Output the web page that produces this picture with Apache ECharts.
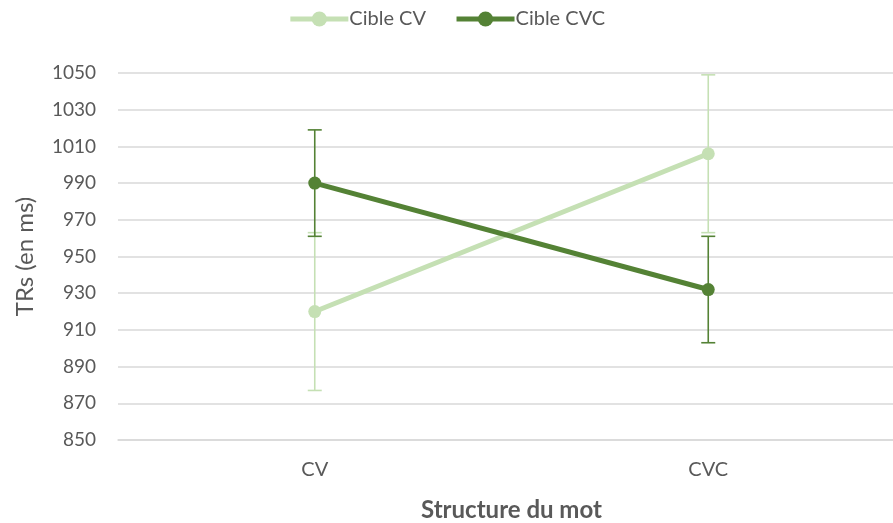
<!DOCTYPE html>
<html>
<head>
<meta charset="utf-8">
<script src="https://cdn.jsdelivr.net/npm/echarts@6/dist/echarts.min.js"></script>
<style>html,body{margin:0;padding:0;background:#fff}#chart{width:893px;height:523px}</style>
</head>
<body>
<div id="chart"></div>
<script>
// Categories and mean reaction times (ms) with error margins
const categories = ['CV', 'CVC'];
const seriesNames = ['Cible CV', 'Cible CVC'];
const cibleCV = [920, 1006];
const cibleCVErr = [43, 43];
const cibleCVC = [990, 932];
const cibleCVCErr = [29, 29];
const yTicks = { min: 850, max: 1050, interval: 20 };

const colors = ['#c5e0b4', '#548235'];
const font = 'Lato, "Open Sans", sans-serif';
const textColor = '#595959';

function errorSeries(values, errs, color) {
  return {
    type: 'custom',
    silent: true,
    z: 1,
    data: values.map((v, i) => [i, v - errs[i], v + errs[i]]),
    renderItem: function (params, api) {
      const lo = api.coord([api.value(0), api.value(1)]);
      const hi = api.coord([api.value(0), api.value(2)]);
      const hw = 7;
      const style = { stroke: color, lineWidth: 1.6 };
      return {
        type: 'group',
        children: [
          { type: 'line', shape: { x1: hi[0], y1: hi[1], x2: lo[0], y2: lo[1] }, style },
          { type: 'line', shape: { x1: hi[0] - hw, y1: hi[1], x2: hi[0] + hw, y2: hi[1] }, style },
          { type: 'line', shape: { x1: lo[0] - hw, y1: lo[1], x2: lo[0] + hw, y2: lo[1] }, style }
        ]
      };
    }
  };
}

function lineSeries(name, values, color) {
  return {
    name: name,
    type: 'line',
    z: 3,
    data: values,
    symbol: 'circle',
    symbolSize: 13,
    lineStyle: { color: color, width: 5 },
    itemStyle: { color: color },
    emphasis: { disabled: true }
  };
}

const chart = echarts.init(document.getElementById('chart'));
chart.setOption({
  animation: false,
  textStyle: { fontFamily: font },
  legend: {
    top: 4,
    left: 'center',
    itemWidth: 58,
    itemHeight: 19,
    itemGap: 28,
    lineStyle: { width: 5 },
    textStyle: { fontSize: 20, color: textColor, fontFamily: font, padding: [0, 0, 0, -4] },
    data: seriesNames
  },
  grid: { left: 118, right: -12, top: 73, bottom: 83, outerBoundsMode: 'none', containLabel: false },
  xAxis: {
    type: 'category',
    data: categories,
    boundaryGap: true,
    axisLine: { show: true, lineStyle: { color: '#d9d9d9', width: 1.5 } },
    axisTick: { show: false },
    axisLabel: { fontSize: 20, color: textColor, margin: 20, fontFamily: font },
    name: 'Structure du mot',
    nameLocation: 'middle',
    nameGap: 58,
    nameTextStyle: { fontSize: 24, fontWeight: 'bold', color: textColor, fontFamily: font }
  },
  yAxis: {
    type: 'value',
    min: yTicks.min,
    max: yTicks.max,
    interval: yTicks.interval,
    axisLine: { show: false },
    axisTick: { show: false },
    axisLabel: { fontSize: 19, color: textColor, margin: 22, fontFamily: font, formatter: v => String(v) },
    splitLine: { lineStyle: { color: '#d9d9d9', width: 1.5 } },
    name: 'TRs (en ms)',
    nameLocation: 'middle',
    nameGap: 81,
    nameRotate: 90,
    nameTextStyle: { fontSize: 24, color: textColor, fontFamily: font }
  },
  series: [
    errorSeries(cibleCV, cibleCVErr, colors[0]),
    errorSeries(cibleCVC, cibleCVCErr, colors[1]),
    lineSeries(seriesNames[0], cibleCV, colors[0]),
    lineSeries(seriesNames[1], cibleCVC, colors[1])
  ]
});
</script>
</body>
</html>
